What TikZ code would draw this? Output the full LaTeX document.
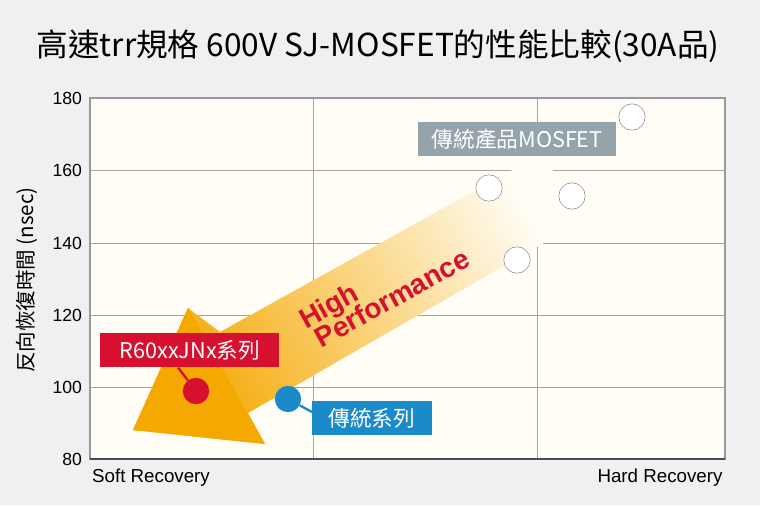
\documentclass[tikz,border=0pt]{standalone}
\usepackage{fontspec}
\setmainfont{Liberation Sans}
\newfontfamily\cjk{Noto Sans CJK TC}
\usetikzlibrary{positioning}
\definecolor{bgray}{HTML}{EEF0F1}
\definecolor{cream}{HTML}{FFFDF6}
\definecolor{arrorange}{HTML}{F5A800}
\definecolor{rohmred}{HTML}{D7102F}
\definecolor{rohmblue}{HTML}{1A8AC9}
\definecolor{tagray}{HTML}{95A3AB}
\begin{document}
\begin{tikzpicture}[
    x=0.03cm,y=-0.03cm,
    grid/.style={gray!70, line width=0.8pt},
    dot/.style={circle, draw=gray, fill=white, minimum size=22.5pt, inner sep=0pt},
    tag/.style={text=white, font=\cjk\fontsize{18.5}{19}\selectfont, inner sep=0pt,
                minimum height=29pt, anchor=north west},
    tick/.style={anchor=east, font=\fontsize{15}{15}\selectfont},
    perf/.style={rotate=29, text=rohmred, font=\bfseries\fontsize{24}{27}\selectfont, inner sep=0pt}
    ]
    % background and plot area
    \fill[bgray] (0,0) rectangle (760,505);
    \fill[cream] (90,98) rectangle (725,459);
    \foreach \y in {170,243,315,387} \draw[grid] (90,\y) -- (725,\y);
    \foreach \x in {313,537} \draw[grid] (\x,98) -- (\x,459);
    \draw[gray!80, line width=1pt] (90,459) -- (90,98) -- (725,98) -- (725,459) -- cycle;
    \draw[black!70, line width=1.2pt] (90,459) -- (725,459);
    % ticks
    \foreach \y/\v in {98/180,170/160,243/140,315/120,387/100,459/80}
      \node[tick] at (86,\y) {\v};
    \node[font=\fontsize{16}{16}\selectfont] (soft) at (151,478) {Soft Recovery};
    \node[font=\fontsize{16}{16}\selectfont] (hard) at (660,478) {Hard Recovery};
    \node[rotate=90, font=\cjk\fontsize{17.5}{18}\selectfont] (ylab) at (27,280) {反向恢復時間 (nsec)};
    \node[font=\cjk\fontsize{27}{28}\selectfont] (title) at (378,46) {高速trr規格 600V SJ-MOSFET的性能比較(30A品)};
    % big arrow
    \shade[left color=arrorange, right color=cream, shading angle=119]
      (188,308) -- (220,332) -- (545,152) -- (575,225) -- (248,413) -- (265,444) -- (133,430) -- cycle;
    \fill[arrorange] (188,308) -- (133,430) -- (265,444) -- cycle;
    \node[perf] (high) at (330,308) {High};
    \node[perf] (perform) at (392,298) {Performance};
    % points
    \node[dot] (p1) at (632,117) {};
    \node[dot] (p2) at (489,188) {};
    \node[dot] (p3) at (572,196) {};
    \node[dot] (p4) at (517,260) {};
    \node[circle, fill=rohmred, minimum size=22.5pt, inner sep=0pt] (rjn) at (196,391) {};
    \node[circle, fill=rohmblue, minimum size=22.5pt, inner sep=0pt] (conv) at (288,399) {};
    % tags
    \node[tag, fill=tagray, minimum width=169pt] (tconv) at (418,122) {傳統產品MOSFET};
    \node[tag, fill=rohmred, minimum width=153pt] (trjn) at (100,333) {R60xxJNx系列};
    \node[tag, fill=rohmblue, minimum width=102pt] (tser) at (312,401) {傳統系列};
    \draw[rohmred, line width=2pt] (rjn) -- (trjn.south -| 178,0);
    \draw[rohmblue, line width=2pt] (conv) -- (tser.west |- 0,412);
\end{tikzpicture}
\end{document}
